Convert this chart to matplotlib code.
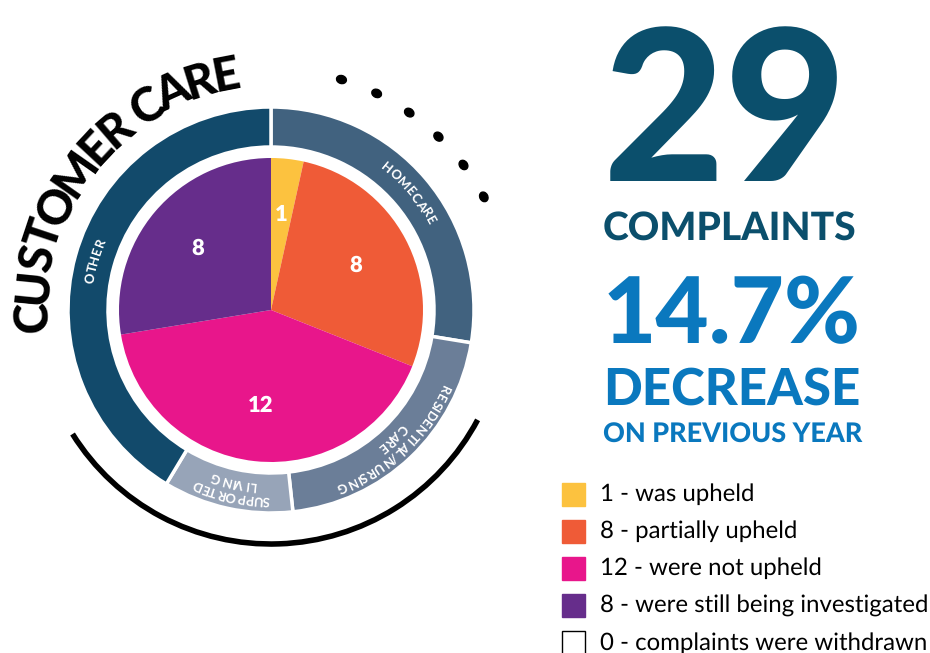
import numpy as np
import matplotlib
matplotlib.use('Agg')
import matplotlib.pyplot as plt
from matplotlib.patches import Rectangle, Ellipse, Arc

plt.rcParams['text.hinting'] = 'no_hinting'
plt.rcParams['text.hinting_factor'] = 1

# outcome of the complaints (inner pie + legend)
outcomes = ['was upheld', 'partially upheld', 'were not upheld',
            'were still being investigated', 'complaints were withdrawn']
outcome_counts = [1, 8, 12, 8, 0]
outcome_colors = ['#fcc23f', '#ef5b37', '#e8168b', '#662d8b', '#ffffff']

# service area (outer ring), estimated from the arc lengths
services = ['HOMECARE', 'RESIDENTIAL/NURSING\nCARE', 'SUPPORTED\nLIVING', 'OTHER']
service_counts = [8, 6, 3, 12]
service_colors = ['#41627f', '#6b7e98', '#97a4b8', '#124a6b']

total_complaints = 29
change_pct = 14.7
title = 'CUSTOMER CARE'

W, H = 930, 653
fig = plt.figure(figsize=(W / 100, H / 100), dpi=100)
ax = fig.add_axes([0, 0, 1, 1])
renderer = fig.canvas.get_renderer()
cx, cy = 271, H - 310


def twidth(s, **kw):
    t = ax.text(0, 0, s, **kw)
    w = t.get_window_extent(renderer).width
    t.remove()
    return w


def curved(s, r, mid, track=1.0, **kw):
    # letters placed one by one along a circle, reading clockwise
    full = twidth(s, **kw)
    for i, ch in enumerate(s):
        if ch == ' ':
            continue
        c = twidth(s[:i + 1], **kw) - twidth(ch, **kw) / 2
        a = mid + np.degrees((full / 2 - c) * track / r)
        ax.text(cx + r * np.cos(np.radians(a)), cy + r * np.sin(np.radians(a)), ch,
                rotation=a - 90, rotation_mode='anchor', ha='center', va='center', **kw)


# outer ring
ring, _ = ax.pie(service_counts, colors=service_colors, radius=203, center=(cx, cy),
                 startangle=90, counterclock=False,
                 wedgeprops=dict(width=40, edgecolor='white', linewidth=2.5))
for w, name in zip(ring, services):
    mid = (w.theta1 + w.theta2) / 2
    lines = name.split('\n')
    rs = [183] if len(lines) == 1 else [190, 176]
    for line, r in zip(lines, rs):
        curved(line, r, mid, track=1.05, color='white', fontsize=9, fontweight='bold', family='Lato')

# inner pie
vals = [v for v in outcome_counts if v > 0]
cols = [c for v, c in zip(outcome_counts, outcome_colors) if v > 0]
ax.pie(vals, colors=cols, radius=152, center=(cx, cy), startangle=90, counterclock=False,
       autopct=lambda p: f'{p * sum(vals) / 100:.0f}', pctdistance=0.63,
       textprops=dict(color='white', fontsize=16, fontweight='heavy', family='Lato'),
       wedgeprops=dict(linewidth=0))

# curved title
curved(title, 238, 141.5, track=0.92, color='black', fontsize=34, fontweight='black', family='Lato')

# decorative dots and arc
for a in np.linspace(73, 28, 6):
    ax.add_patch(Ellipse((cx + 241 * np.cos(np.radians(a)), cy + 241 * np.sin(np.radians(a))),
                         10, 8, angle=a - 90, color='black'))
ax.add_patch(Arc((cx, cy), 2 * 234, 2 * 234, theta1=212, theta2=332, lw=4, color='black'))


# headline numbers
def fit_text(x, y_img, s, width, color):
    t = ax.text(x, H - y_img, s, fontsize=100, fontweight='black', family='Lato',
                color=color, ha='left', va='baseline')
    w = t.get_window_extent(renderer).width
    t.set_fontsize(100 * width / w)


dark, blue = '#0b4f6c', '#0a78be'
fit_text(603, 181, f'{total_complaints}', 245, dark)
fit_text(603, 240, 'COMPLAINTS', 252, dark)
fit_text(603, 343, f'{change_pct}%', 259, blue)
fit_text(603, 405, 'DECREASE', 255, blue)
fit_text(603, 443, 'ON PREVIOUS YEAR', 257, blue)

# legend
labels = [f'{n} - {s}' for n, s in zip(outcome_counts, outcomes)]
lfs = 100 * 325 / twidth(max(labels, key=len), fontsize=100, family='Lato')
for i, (lab, col) in enumerate(zip(labels, outcome_colors)):
    yc = H - (494 + 37.2 * i)
    ax.add_patch(Rectangle((562, yc - 11.5), 23, 23, facecolor=col,
                           edgecolor='black' if col == '#ffffff' else col, lw=1))
    ax.text(600, yc, lab, fontsize=lfs, family='Lato', color='black', ha='left', va='center')

ax.set_xlim(0, W)
ax.set_ylim(0, H)
ax.set_aspect('equal')
ax.axis('off')
fig.savefig('out.png', dpi=100)
